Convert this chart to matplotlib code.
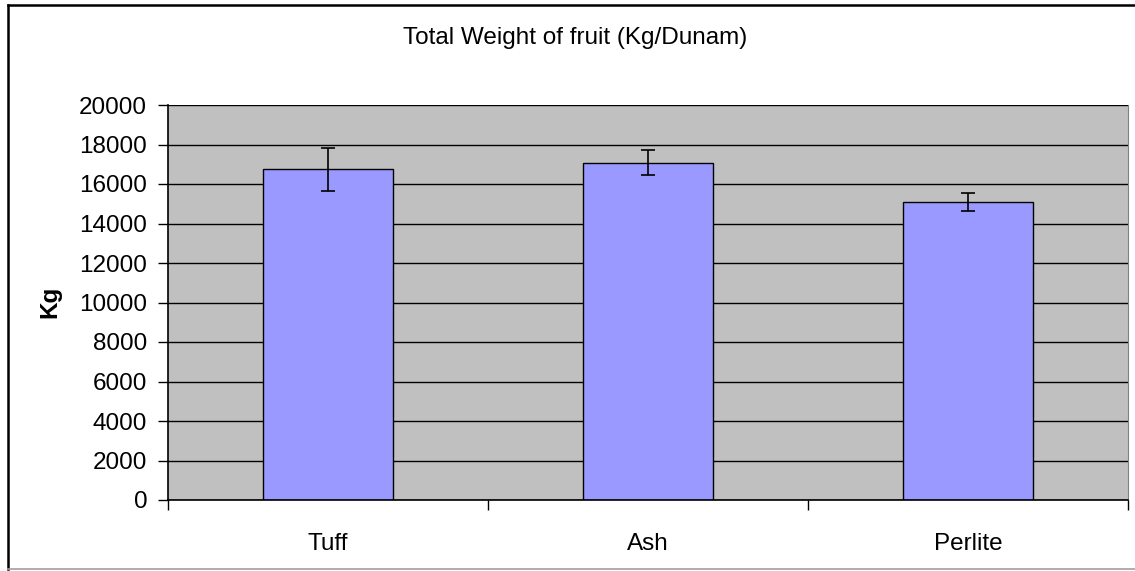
import numpy as np
import matplotlib.pyplot as plt
from matplotlib.lines import Line2D

plt.rcParams['font.family'] = ['Liberation Sans', 'DejaVu Sans']

# data
categories = ["Tuff", "Ash", "Perlite"]
weights = [16750, 17080, 15090]
errors = [1090, 625, 470]

W, H = 1135, 571
fig = plt.figure(figsize=(W / 100, H / 100), dpi=100)
ax = fig.add_axes([168 / W, 1 - 500 / H, (1128 - 168) / W, (500 - 105) / H])

x = np.arange(len(categories))
ax.set_facecolor('#C0C0C0')
ax.yaxis.grid(True, color='black', linewidth=1)
ax.set_axisbelow(True)
ax.bar(x, weights, width=0.405, color='#9999FF', edgecolor='black', linewidth=1, zorder=2)
ax.errorbar(x, weights, yerr=errors, fmt='none', ecolor='black', elinewidth=1.2,
            capsize=5, capthick=1.2, zorder=3)

ax.set_xlim(-0.5, len(categories) - 0.5)
ax.set_ylim(0, 20000)
ax.set_yticks(np.arange(0, 20001, 2000))
ax.set_xticks(np.arange(-0.5, len(categories), 1))
ax.set_xticklabels([])
ax.set_xticks(x, minor=True)
ax.set_xticklabels(categories, minor=True)
ax.tick_params(axis='x', which='minor', length=0, pad=24, labelsize=17.5)
ax.tick_params(axis='x', which='major', length=7, direction='out', width=1)
ax.tick_params(axis='y', length=7, direction='out', width=1, labelsize=17.5, pad=8)

ax.spines['top'].set_visible(False)
ax.spines['right'].set_color('#808080')
ax.spines['left'].set_linewidth(1.2)
ax.spines['bottom'].set_linewidth(1.2)

fig.text(50 / W, 1 - 302 / H, "Kg", rotation=90, ha='center', va='center',
         fontsize=17.5, fontweight='bold')
fig.text(575 / W, 1 - 38 / H, "Total Weight of fruit (Kg/Dunam)",
         ha='center', va='center', fontsize=17.5)

# outer chart frame (left/top black, bottom light gray, right cut off)
fig.add_artist(Line2D([8 / W, 8 / W], [1 - 5 / H, 1 - 569 / H], color='black', linewidth=1.8))
fig.add_artist(Line2D([8 / W, 1], [1 - 5 / H, 1 - 5 / H], color='black', linewidth=1.8))
fig.add_artist(Line2D([8 / W, 1], [1 - 569 / H, 1 - 569 / H], color='#A0A0A0', linewidth=1.2))

plt.savefig('out.png', dpi=100)
